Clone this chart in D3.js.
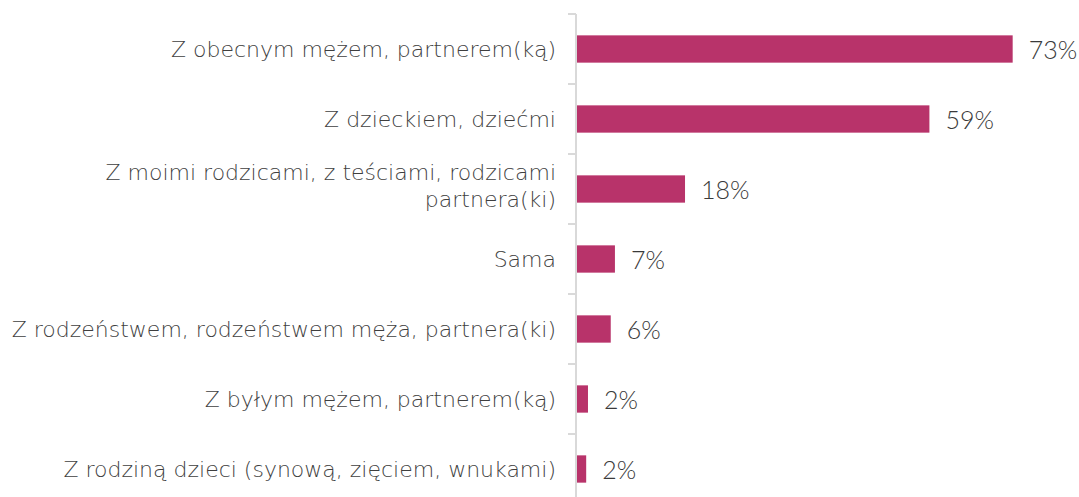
<!DOCTYPE html>
<html>
<head>
<meta charset="utf-8">
<script src="https://cdn.jsdelivr.net/npm/d3@7"></script>
<style>
  body { margin: 0; background: #fff; }
  .cat-label { font-family: "DejaVu Sans", sans-serif; font-size: 22px; font-weight: 300; fill: #3f3f3f; }
  .val-label { font-family: Lato, "Liberation Sans", sans-serif; font-size: 25px; font-weight: 300; fill: #3a3a3a; }
</style>
</head>
<body>
<div class="chart"></div>
<script>
// Data
var categories = [
  "Z obecnym mężem, partnerem(ką)",
  "Z dzieckiem, dziećmi",
  "Z moimi rodzicami, z teściami, rodzicami|partnera(ki)",
  "Sama",
  "Z rodzeństwem, rodzeństwem męża, partnera(ki)",
  "Z byłym mężem, partnerem(ką)",
  "Z rodziną dzieci (synową, zięciem, wnukami)"
];
var values = [72.9, 59.0, 18.2, 6.5, 5.8, 2.0, 1.7];
var valueLabels = ["73%", "59%", "18%", "7%", "6%", "2%", "2%"];

var svgWidth = 1079;
var svgHeight = 497;
var axisX = 576;

var svg = d3.select(".chart")
  .append("svg")
  .attr("width", svgWidth)
  .attr("height", svgHeight);

var xScale = d3.scaleLinear().domain([0, 100]).range([axisX, axisX + 599]);

var yScale = d3.scaleBand()
  .domain(categories)
  .range([14, 504])
  .paddingInner(0.61)
  .paddingOuter(0.305);

var step = yScale.step();
var gap = step - yScale.bandwidth();

var data = categories.map(function(c, i) {
  return { cat: c, value: values[i], label: valueLabels[i] };
});

// bars
svg.selectAll("rect.bar")
  .data(data)
  .enter()
  .append("rect")
  .attr("class", "bar")
  .attr("x", xScale(0))
  .attr("y", function(d) { return yScale(d.cat); })
  .attr("width", function(d) { return xScale(d.value) - xScale(0); })
  .attr("height", yScale.bandwidth())
  .attr("fill", "#b8336a");

// axis line and ticks between categories
svg.append("line")
  .attr("x1", axisX).attr("x2", axisX)
  .attr("y1", yScale.range()[0]).attr("y2", svgHeight)
  .attr("stroke", "#d9d9d9")
  .attr("stroke-width", 2);

svg.selectAll("line.tick")
  .data(categories)
  .enter()
  .append("line")
  .attr("class", "tick")
  .attr("x1", axisX - 8).attr("x2", axisX)
  .attr("y1", function(d) { return yScale(d) - gap / 2; })
  .attr("y2", function(d) { return yScale(d) - gap / 2; })
  .attr("stroke", "#d9d9d9")
  .attr("stroke-width", 2);

// category labels (| marks a line break)
var catText = svg.selectAll("text.cat-label")
  .data(data)
  .enter()
  .append("text")
  .attr("class", "cat-label")
  .attr("text-anchor", "end")
  .attr("x", axisX - 20)
  .attr("y", function(d) { return yScale(d.cat) + yScale.bandwidth() / 2; });

catText.each(function(d) {
  var lines = d.cat.split("|");
  var t = d3.select(this);
  var lh = 27;
  lines.forEach(function(line, i) {
    t.append("tspan")
      .attr("x", axisX - 20)
      .attr("dy", i === 0 ? (7.5 - (lines.length - 1) * 16.5) : lh)
      .text(line);
  });
});

// value labels
svg.selectAll("text.val-label")
  .data(data)
  .enter()
  .append("text")
  .attr("class", "val-label")
  .attr("x", function(d) { return xScale(d.value) + 16; })
  .attr("y", function(d) { return yScale(d.cat) + yScale.bandwidth() / 2 + 9.5; })
  .text(function(d) { return d.label; });
</script>
</body>
</html>
